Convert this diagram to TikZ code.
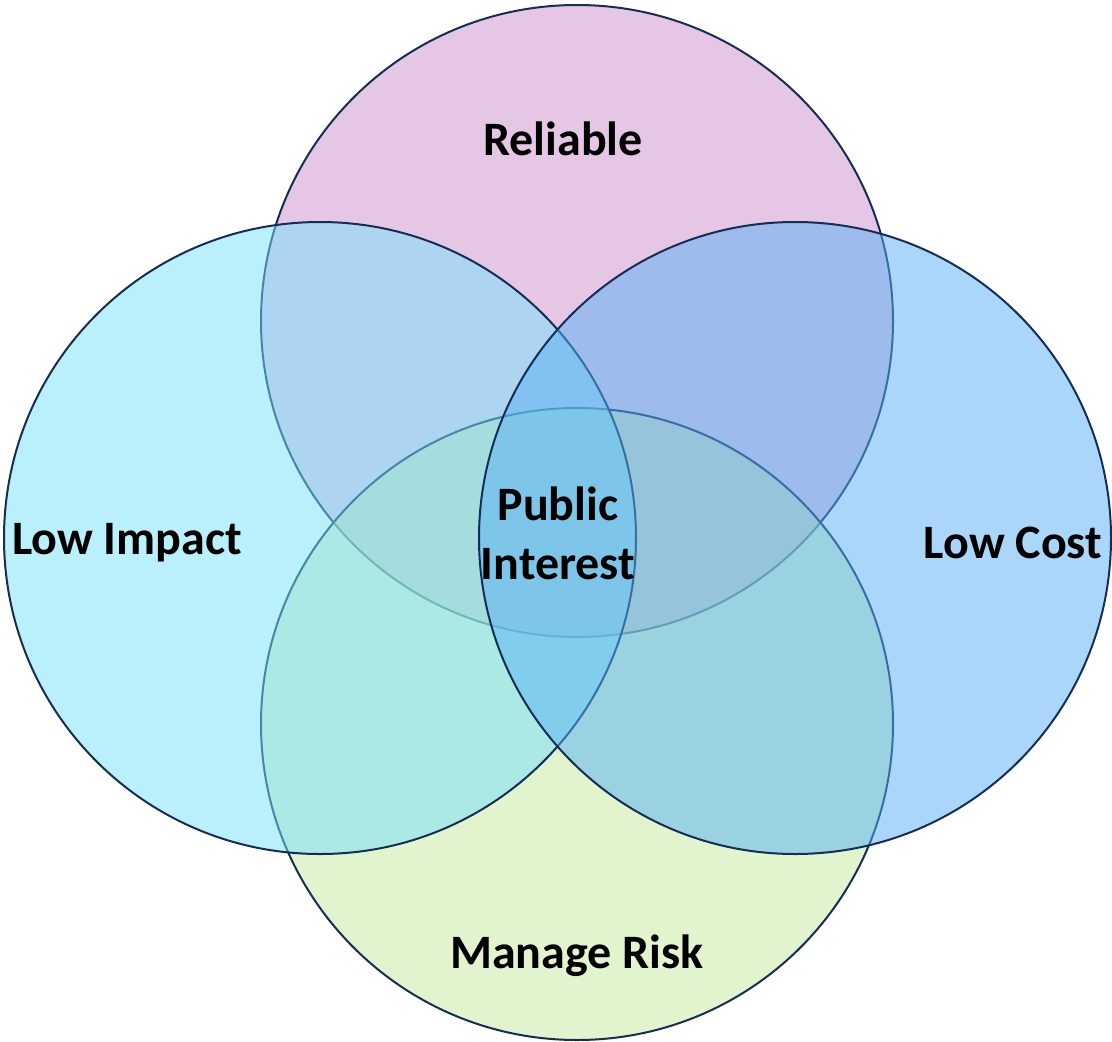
\documentclass[tikz,border=0pt]{standalone}
\usepackage{fontspec}
\setmainfont{Carlito}
\definecolor{cTop}{RGB}{205,145,205}
\definecolor{cBot}{RGB}{197,235,159}
\definecolor{cLeft}{RGB}{119,225,251}
\definecolor{cRight}{RGB}{87,177,245}
\definecolor{edge}{RGB}{22,45,85}
\tikzset{
  venn/.style={draw=edge, line width=2pt, fill opacity=0.5},
  lbl/.style={font=\bfseries\fontsize{48}{59}\selectfont, text=black, align=center, inner sep=0pt}
}
\begin{document}
\begin{tikzpicture}[x=1pt,y=-1pt]
\useasboundingbox (0,0) rectangle (1112,1042);
\fill[white] (0,0) rectangle (1112,1042);
\path[venn, fill=cTop] (577,321) circle[radius=316];
\path[venn, fill=cBot] (577,724) circle[radius=316];
\path[venn, fill=cLeft] (320,538) circle[radius=316];
\path[venn, fill=cRight] (795,538) circle[radius=316];
\node[lbl] (rel) at (563,139) {Reliable};
\node[lbl] (imp) at (127,543) {Low Impact};
\node[lbl] (cost) at (1013,543) {Low Cost};
\node[lbl] (risk) at (577,956) {Manage Risk};
\node[lbl] (pub) at (558,533) {Public\\Interest};
\end{tikzpicture}
\end{document}
